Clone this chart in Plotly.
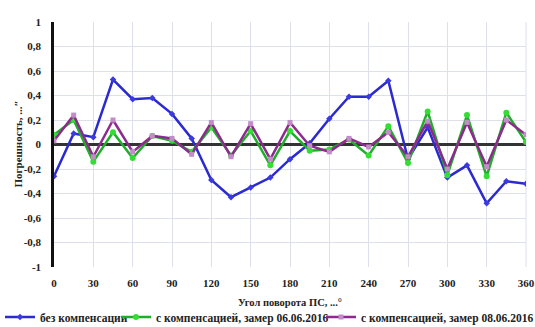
import plotly.graph_objects as go

angles = [0, 15, 30, 45, 60, 75, 90, 105, 120, 135, 150, 165, 180,
          195, 210, 225, 240, 255, 270, 285, 300, 315, 330, 345, 360]

no_comp = [-0.26, 0.09, 0.06, 0.53, 0.37, 0.38, 0.25, 0.05, -0.29, -0.43, -0.35, -0.27, -0.12,
           0.01, 0.21, 0.39, 0.39, 0.52, -0.12, 0.14, -0.27, -0.17, -0.48, -0.30, -0.32]

comp_0606 = [0.08, 0.20, -0.14, 0.10, -0.11, 0.07, 0.03, -0.06, 0.14, -0.09, 0.11, -0.17, 0.11,
             -0.05, -0.04, 0.04, -0.09, 0.15, -0.15, 0.27, -0.25, 0.24, -0.26, 0.26, 0.02]

comp_0806 = [0.03, 0.24, -0.10, 0.20, -0.06, 0.07, 0.05, -0.08, 0.18, -0.10, 0.17, -0.12, 0.18,
             -0.01, -0.06, 0.05, -0.02, 0.10, -0.10, 0.19, -0.20, 0.18, -0.18, 0.20, 0.08]

x_ticks = list(range(0, 361, 30))
y_ticks = [-1, -0.8, -0.6, -0.4, -0.2, 0, 0.2, 0.4, 0.6, 0.8, 1]
y_labels = ["-1", "-0,8", "-0,6", "-0,4", "-0,2", "0", "0,2", "0,4", "0,6", "0,8", "1"]

names = ["без компенсации", "с компенсацией, замер 06.06.2016", "с компенсацией, замер 08.06.2016"]
x_title = "Угол поворота ПС, ...°"
y_title = "Погрешность, ...″"

FONT = "Liberation Serif"
W, H = 535, 327

fig = go.Figure()
fig.add_trace(go.Scatter(x=angles, y=no_comp, name=names[0], mode="lines+markers",
                         legend="legend",
                         line=dict(color="#2a2ad0", width=2.5),
                         marker=dict(symbol="diamond", size=5, color="#3a3ae0")))
fig.add_trace(go.Scatter(x=angles, y=comp_0606, name=names[1], mode="lines+markers",
                         legend="legend2",
                         line=dict(color="#1fae2a", width=2.5),
                         marker=dict(symbol="circle", size=6, color="#33dd33")))
fig.add_trace(go.Scatter(x=angles, y=comp_0806, name=names[2], mode="lines+markers",
                         legend="legend3",
                         line=dict(color="#8e2a8e", width=2.5),
                         marker=dict(symbol="square", size=5, color="#c38cc8")))

def leg(xpx):
    return dict(orientation="h", x=xpx / W, xanchor="left", xref="container",
                y=10 / H, yanchor="middle", yref="container", bgcolor="rgba(0,0,0,0)",
                font=dict(family=FONT, size=11.5, color="#222", weight="bold"),
                itemwidth=30, borderwidth=0)

tfont = dict(family=FONT, size=11, weight="bold", color="#222")

fig.update_layout(
    width=W, height=H,
    margin=dict(l=54, r=9, t=22, b=60, autoexpand=False),
    paper_bgcolor="white", plot_bgcolor="white",
    font=dict(family=FONT, size=11, color="#222"),
    showlegend=True,
    legend=leg(-6), legend2=leg(116), legend3=leg(321),
    xaxis=dict(range=[0, 360], tickvals=x_ticks, showgrid=True, gridcolor="#dde0ea",
               gridwidth=1, zeroline=False, showline=False, ticks="",
               ticklabelstandoff=8, tickfont=tfont),
    yaxis=dict(range=[-1, 1], tickvals=y_ticks, ticktext=y_labels, showgrid=True,
               gridcolor="#dde0ea", gridwidth=1, zeroline=True, zerolinecolor="#333",
               zerolinewidth=2.5, showline=True, linecolor="#111", linewidth=2.5,
               ticks="", ticklabelstandoff=8, tickfont=tfont),
)

fig.add_annotation(text=x_title, xref="paper", yref="paper", x=0.5, y=0,
                   yanchor="middle", yshift=-35, showarrow=False,
                   font=dict(family=FONT, size=10.5, weight="bold", color="#222"))
fig.add_annotation(text=y_title, xref="paper", yref="paper", x=0, y=0.5,
                   xanchor="center", yanchor="middle", xshift=-37, textangle=-90,
                   showarrow=False,
                   font=dict(family=FONT, size=11, weight="bold", color="#222"))

fig.add_shape(type="line", xref="paper", yref="paper", x0=1, x1=1, y0=0, y1=1,
              line=dict(color="#dde0ea", width=1), layer="below")

fig.write_html("out.html", config={"displayModeBar": False},
               post_script="document.body.style.margin='0';"
               "document.body.style.padding='0';")
